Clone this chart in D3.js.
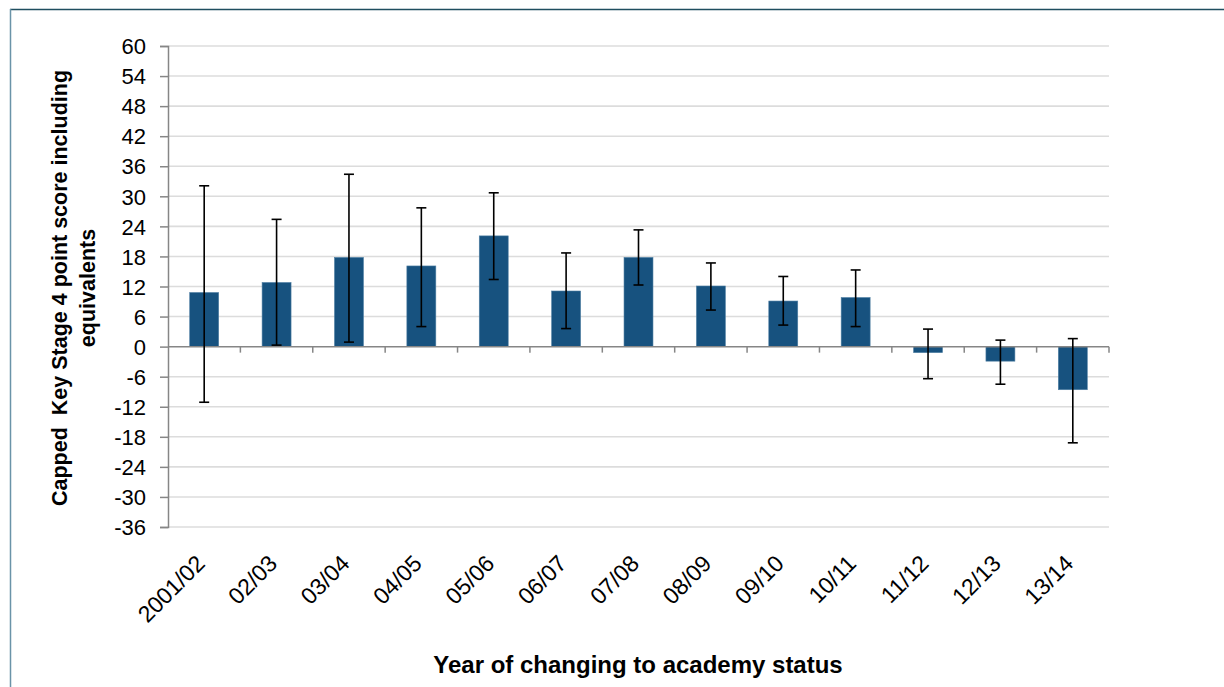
<!DOCTYPE html>
<html><head><meta charset="utf-8">
<script src="https://cdn.jsdelivr.net/npm/d3@7"></script>
<style>body{margin:0;background:#fff;}svg{display:block;font-family:"Liberation Sans",Arial,sans-serif;}
.yax text{font-size:22px;font-family:"Liberation Sans",Arial,sans-serif;fill:#000;}</style>
</head><body>
<svg id="c" width="1224" height="687"></svg>
<script>
const categories = ["2001/02","02/03","03/04","04/05","05/06","06/07","07/08","08/09","09/10","10/11","11/12","12/13","13/14"];
const values = [10.8, 12.8, 17.8, 16.1, 22.1, 11.1, 17.8, 12.1, 9.1, 9.8, -1.2, -2.9, -8.6];
const errHigh = [32.1, 25.4, 34.4, 27.7, 30.7, 18.7, 23.3, 16.7, 14.0, 15.3, 3.5, 1.3, 1.6];
const errLow = [-11.1, 0.3, 0.9, 4.0, 13.4, 3.6, 12.3, 7.3, 4.3, 4.0, -6.4, -7.5, -19.2];
const yTicks = [60,54,48,42,36,30,24,18,12,6,0,-6,-12,-18,-24,-30,-36];
const yTitle = ["Capped  Key Stage 4 point score including", "equivalents"];
const xTitle = "Year of changing to academy status";

const svg = d3.select("#c");
// frame
svg.append("line").attr("x1",10).attr("x2",1224).attr("y1",9.5).attr("y2",9.5).attr("stroke","#1f4e5f").attr("stroke-width",1.5);
svg.append("line").attr("x1",10.5).attr("x2",10.5).attr("y1",9).attr("y2",687).attr("stroke","#6a93a8").attr("stroke-width",1.5);

const L = 168, R = 1109, T = 46, B = 527;
const x = d3.scaleBand().domain(categories).range([L, R]).paddingInner(0.6).paddingOuter(0.3);
const xb = d3.scaleBand().domain(categories).range([L, R]);
const y = d3.scaleLinear().domain([-36, 60]).range([B, T]);

// gridlines
svg.append("g").selectAll("line").data(yTicks.filter(d => d !== 0)).join("line")
  .attr("x1", L).attr("x2", R).attr("y1", d => y(d)).attr("y2", d => y(d))
  .attr("stroke", "#dcdcdc").attr("stroke-width", 1.6);

// y axis
const yAxis = d3.axisLeft(y).tickValues(yTicks).tickSize(8).tickPadding(14).tickFormat(d3.format("d"));
const ga = svg.append("g").attr("class", "yax").attr("transform", `translate(${L},0)`).call(yAxis);
ga.select(".domain").attr("stroke", "#868686").attr("stroke-width", 1.5);
ga.selectAll(".tick line").attr("stroke", "#868686").attr("stroke-width", 1.5);
ga.selectAll(".tick text").attr("dy", "0.35em").style("font-size", "22px");
ga.selectAll(".tick text").text(d => d < 0 ? "-" + Math.abs(d) : d);

// bars
svg.append("g").selectAll("rect").data(categories).join("rect")
  .attr("x", d => x(d)).attr("width", x.bandwidth())
  .attr("y", (d, i) => y(Math.max(0, values[i])))
  .attr("height", (d, i) => Math.abs(y(values[i]) - y(0)))
  .attr("fill", "#17527f").attr("stroke", "#4f7fa3").attr("stroke-width", 0.6);

// zero line with ticks
svg.append("line").attr("x1", L).attr("x2", R).attr("y1", y(0)).attr("y2", y(0)).attr("stroke", "#868686").attr("stroke-width", 1.5);
svg.append("g").selectAll("line").data(categories).join("line")
  .attr("x1", d => xb(d) + xb.bandwidth()).attr("x2", d => xb(d) + xb.bandwidth())
  .attr("y1", y(0)).attr("y2", y(0) + 6).attr("stroke", "#868686").attr("stroke-width", 1.5);

// error bars
const eg = svg.append("g").attr("stroke", "#000").attr("stroke-width", 1.6);
categories.forEach((c, i) => {
  const cx = x(c) + x.bandwidth() / 2;
  eg.append("line").attr("x1", cx).attr("x2", cx).attr("y1", y(errHigh[i])).attr("y2", y(errLow[i]));
  eg.append("line").attr("x1", cx - 5).attr("x2", cx + 5).attr("y1", y(errHigh[i])).attr("y2", y(errHigh[i]));
  eg.append("line").attr("x1", cx - 5).attr("x2", cx + 5).attr("y1", y(errLow[i])).attr("y2", y(errLow[i]));
});

// x labels
svg.append("g").selectAll("text").data(categories).join("text")
  .attr("transform", d => `translate(${x(d) + x.bandwidth() / 2 + 2},${B + 38}) rotate(-45)`)
  .attr("text-anchor", "end").attr("font-size", 23).attr("fill", "#000").text(d => d);

// titles
svg.append("text").attr("x", 638).attr("y", 673).attr("text-anchor", "middle")
  .attr("font-size", 24).attr("font-weight", "bold").text(xTitle);
const yt = svg.append("text").attr("transform", "translate(0,288) rotate(-90)").attr("text-anchor", "middle")
  .attr("font-size", 21.5).attr("font-weight", "bold").style("white-space", "pre");
yt.append("tspan").attr("x", 0).attr("y", 67).text(yTitle[0]);
yt.append("tspan").attr("x", 0).attr("y", 95).text(yTitle[1]);
</script>
</body></html>
